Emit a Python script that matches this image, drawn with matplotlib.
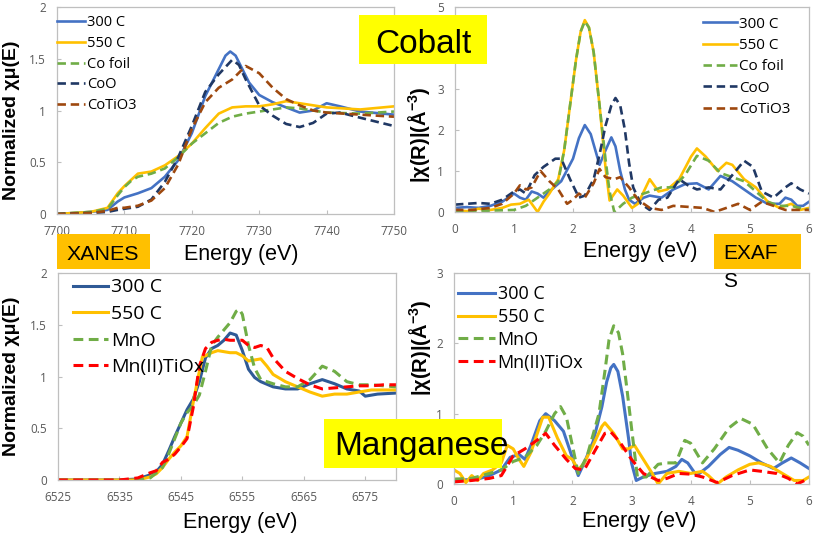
import matplotlib
matplotlib.use('Agg')
import matplotlib.pyplot as plt
from matplotlib.patches import Rectangle

W, H = 817, 536
plt.rcParams['font.family'] = ['Liberation Sans', 'DejaVu Sans']
plt.rcParams['mathtext.fontset'] = 'custom'
plt.rcParams['mathtext.rm'] = 'Liberation Sans:bold'
plt.rcParams['mathtext.bf'] = 'Liberation Sans:bold'
plt.rcParams['mathtext.it'] = 'Liberation Sans:bold'

# ---------------- Cobalt XANES ----------------
co_x300 = [7700, 7705, 7707.5, 7709, 7710, 7712, 7714, 7716, 7718, 7720, 7722, 7724, 7725, 7725.7, 7726.5, 7727.5, 7728.5, 7730, 7732, 7734, 7736, 7738, 7740, 7742, 7745, 7750]
co_y300 = [0.0, 0.02, 0.04, 0.12, 0.16, 0.20, 0.25, 0.36, 0.52, 0.78, 1.14, 1.40, 1.53, 1.57, 1.53, 1.40, 1.27, 1.15, 1.08, 1.03, 0.98, 1.00, 1.07, 1.04, 0.99, 0.96]
co_x550 = [7700, 7705, 7707.5, 7709, 7710, 7711, 7712, 7714, 7716, 7718, 7720, 7722, 7724, 7726, 7728, 7730, 7732, 7734, 7736, 7738, 7740, 7745, 7750]
co_y550 = [0.0, 0.02, 0.06, 0.20, 0.27, 0.33, 0.39, 0.41, 0.47, 0.56, 0.68, 0.83, 0.97, 1.03, 1.04, 1.04, 1.06, 1.09, 1.07, 1.05, 1.03, 1.01, 1.04]
co_xfoil = [7700, 7705, 7707.5, 7709, 7710, 7711, 7712, 7714, 7716, 7718, 7720, 7722, 7724, 7726, 7728, 7730, 7732, 7734, 7736, 7738, 7740, 7745, 7750]
co_yfoil = [0.0, 0.02, 0.05, 0.18, 0.26, 0.32, 0.36, 0.39, 0.44, 0.55, 0.68, 0.78, 0.88, 0.94, 0.97, 0.99, 1.01, 1.03, 1.02, 1.00, 0.98, 0.97, 0.99]
co_xcoo = [7700, 7705, 7707.5, 7709, 7710, 7712, 7714, 7716, 7718, 7720, 7722, 7724, 7726, 7727, 7728, 7730, 7732, 7734, 7736, 7738, 7740, 7742, 7745, 7750]
co_ycoo = [0.0, 0.01, 0.02, 0.04, 0.05, 0.07, 0.14, 0.31, 0.55, 0.85, 1.18, 1.35, 1.49, 1.44, 1.30, 1.05, 0.95, 0.87, 0.84, 0.88, 0.97, 0.98, 0.93, 0.85]
co_xcti = [7700, 7705, 7707.5, 7709, 7710, 7712, 7714, 7716, 7718, 7720, 7722, 7724, 7726, 7728, 7730, 7732, 7734, 7736, 7738, 7740, 7745, 7750]
co_ycti = [0.0, 0.01, 0.03, 0.06, 0.06, 0.08, 0.13, 0.25, 0.48, 0.82, 1.08, 1.22, 1.30, 1.43, 1.36, 1.22, 1.11, 1.05, 1.00, 0.98, 0.96, 0.94]

# ---------------- Cobalt EXAFS ----------------
ce_x300 = [0, 0.2, 0.4, 0.6, 0.8, 1.0, 1.1, 1.2, 1.3, 1.4, 1.5, 1.6, 1.8, 2.0, 2.1, 2.2, 2.3, 2.38, 2.45, 2.55, 2.65, 2.72, 2.8, 2.88, 2.95, 3.05, 3.2, 3.3, 3.5, 3.7, 3.9, 4.1, 4.3, 4.5, 4.7, 4.9, 5.1, 5.3, 5.5, 5.6, 5.7, 5.8, 5.9, 6.0]
ce_y300 = [0.10, 0.12, 0.10, 0.15, 0.25, 0.45, 0.35, 0.30, 0.50, 0.45, 0.35, 0.50, 0.75, 1.30, 1.80, 2.12, 1.90, 1.50, 1.15, 1.50, 1.82, 1.60, 1.00, 0.55, 0.30, 0.20, 0.35, 0.40, 0.35, 0.55, 0.68, 0.70, 0.55, 0.88, 0.75, 0.55, 0.35, 0.20, 0.20, 0.35, 0.30, 0.15, 0.15, 0.25]
ce_x550 = [0, 0.2, 0.4, 0.6, 0.8, 0.95, 1.1, 1.25, 1.4, 1.5, 1.6, 1.75, 1.85, 1.95, 2.05, 2.13, 2.2, 2.27, 2.35, 2.45, 2.55, 2.62, 2.75, 2.85, 3.0, 3.1, 3.3, 3.45, 3.6, 3.8, 4.0, 4.1, 4.25, 4.45, 4.6, 4.7, 4.9, 5.1, 5.3, 5.5, 5.7, 5.85, 6.0]
ce_y550 = [0.05, 0.02, 0.08, 0.05, 0.10, 0.18, 0.20, 0.30, 0.00, 0.25, 0.45, 0.80, 1.50, 2.60, 3.70, 4.40, 4.68, 4.50, 3.90, 2.60, 1.10, 0.28, 0.55, 0.40, 0.10, 0.20, 0.80, 0.50, 0.55, 0.80, 1.35, 1.55, 1.35, 1.00, 1.20, 1.15, 0.80, 0.60, 0.25, 0.10, 0.20, 0.05, 0.10]
ce_xfoil = [0, 0.5, 1.0, 1.2, 1.4, 1.6, 1.75, 1.85, 1.95, 2.05, 2.13, 2.2, 2.27, 2.35, 2.45, 2.55, 2.62, 2.7, 2.85, 3.0, 3.2, 3.5, 3.7, 3.9, 4.1, 4.3, 4.5, 4.7, 4.9, 5.1, 5.3, 5.5, 5.7, 5.9, 6.0]
ce_yfoil = [0.0, 0.03, 0.05, 0.15, 0.35, 0.55, 0.75, 1.50, 2.60, 3.70, 4.40, 4.65, 4.50, 3.90, 2.60, 1.30, 0.50, 0.00, 0.20, 0.35, 0.45, 0.60, 0.60, 0.90, 1.37, 1.25, 0.95, 0.85, 0.75, 0.50, 0.25, 0.15, 0.15, 0.08, 0.05]
ce_xcoo = [0, 0.4, 0.6, 0.8, 1.0, 1.1, 1.2, 1.35, 1.5, 1.7, 1.8, 1.95, 2.1, 2.2, 2.35, 2.45, 2.55, 2.65, 2.72, 2.8, 2.88, 2.95, 3.02, 3.15, 3.3, 3.45, 3.6, 3.8, 3.95, 4.1, 4.3, 4.5, 4.7, 4.9, 5.05, 5.2, 5.4, 5.6, 5.7, 5.85, 6.0]
ce_ycoo = [0.18, 0.22, 0.20, 0.30, 0.50, 0.55, 0.45, 0.90, 1.10, 1.30, 1.30, 0.80, 0.35, 0.40, 0.80, 1.40, 2.10, 2.60, 2.78, 2.60, 2.00, 1.20, 0.60, 0.20, 0.05, 0.30, 0.35, 0.80, 0.65, 0.55, 0.60, 0.55, 0.90, 1.25, 1.10, 0.50, 0.35, 0.60, 0.70, 0.55, 0.45]
ce_xcti = [0, 0.3, 0.6, 0.8, 1.0, 1.1, 1.2, 1.3, 1.45, 1.6, 1.75, 1.9, 2.0, 2.1, 2.2, 2.35, 2.45, 2.55, 2.7, 2.8, 2.95, 3.1, 3.3, 3.5, 3.7, 4.0, 4.2, 4.4, 4.6, 4.8, 5.0, 5.2, 5.4, 5.6, 5.8, 6.0]
ce_ycti = [0.05, 0.05, 0.10, 0.20, 0.45, 0.65, 0.55, 0.60, 1.00, 0.75, 0.55, 0.20, 0.30, 0.45, 0.35, 0.70, 1.05, 0.85, 0.80, 0.85, 0.60, 0.30, 0.10, 0.05, 0.15, 0.12, 0.10, 0.00, 0.10, 0.20, 0.05, 0.25, 0.15, 0.05, 0.05, 0.05]

# ---------------- Manganese XANES ----------------
mn_x300 = [6525, 6535, 6538, 6540, 6541, 6542, 6543, 6544, 6545, 6546, 6547, 6548, 6549, 6550, 6551, 6552, 6553, 6554, 6555, 6556, 6557, 6558, 6560, 6562, 6564, 6566, 6568, 6570, 6572, 6573, 6574, 6575, 6577, 6580]
mn_y300 = [0.0, 0.0, 0.01, 0.05, 0.08, 0.15, 0.28, 0.42, 0.55, 0.68, 0.78, 0.95, 1.18, 1.27, 1.30, 1.35, 1.42, 1.40, 1.25, 1.07, 0.99, 0.95, 0.90, 0.88, 0.88, 0.93, 0.97, 0.93, 0.88, 0.87, 0.86, 0.81, 0.83, 0.84]
mn_x550 = [6525, 6535, 6538, 6540, 6541, 6542, 6543, 6544, 6545, 6546, 6547, 6548, 6548.5, 6549, 6550, 6551, 6552, 6553, 6554, 6555, 6556, 6557, 6558, 6559, 6560, 6562, 6564, 6566, 6568, 6570, 6572, 6574, 6576, 6580]
mn_y550 = [0.0, 0.0, 0.0, 0.03, 0.06, 0.12, 0.20, 0.27, 0.33, 0.42, 0.75, 1.05, 1.19, 1.20, 1.23, 1.25, 1.24, 1.23, 1.23, 1.20, 1.15, 1.16, 1.17, 1.10, 1.02, 0.95, 0.90, 0.85, 0.81, 0.83, 0.83, 0.85, 0.87, 0.87]
mn_xmno = [6525, 6538, 6540, 6542, 6543, 6544, 6545, 6546, 6547, 6548, 6549, 6550, 6551, 6552, 6553, 6554, 6554.5, 6555, 6556, 6557, 6558, 6560, 6562, 6564, 6566, 6568, 6570, 6572, 6574, 6576, 6578, 6580]
mn_ymno = [0.0, 0.0, 0.02, 0.12, 0.25, 0.40, 0.55, 0.65, 0.72, 0.82, 1.05, 1.30, 1.38, 1.45, 1.52, 1.63, 1.65, 1.60, 1.30, 1.08, 0.97, 0.93, 0.90, 0.90, 0.97, 1.10, 1.05, 0.95, 0.92, 0.92, 0.91, 0.90]
mn_xti = [6525, 6535, 6538, 6540, 6541, 6542, 6543, 6544, 6545, 6546, 6547, 6548, 6549, 6550, 6551, 6552, 6553, 6554, 6555, 6556, 6557, 6558, 6559, 6560, 6562, 6564, 6566, 6568, 6570, 6572, 6574, 6576, 6578, 6580]
mn_yti = [0.0, 0.0, 0.02, 0.07, 0.09, 0.17, 0.20, 0.25, 0.32, 0.40, 0.70, 1.10, 1.27, 1.33, 1.35, 1.36, 1.35, 1.35, 1.35, 1.30, 1.28, 1.30, 1.28, 1.18, 1.05, 0.98, 0.92, 0.88, 0.89, 0.90, 0.91, 0.91, 0.92, 0.92]

# ---------------- Manganese EXAFS ----------------
me_x300 = [0, 0.2, 0.4, 0.6, 0.8, 0.95, 1.1, 1.2, 1.3, 1.45, 1.55, 1.7, 1.85, 1.95, 2.1, 2.2, 2.35, 2.5, 2.58, 2.65, 2.7, 2.77, 2.85, 2.95, 3.0, 3.08, 3.2, 3.4, 3.6, 3.75, 3.85, 3.95, 4.1, 4.3, 4.5, 4.65, 4.8, 5.0, 5.2, 5.4, 5.55, 5.7, 5.85, 6.0]
me_y300 = [0.05, 0.06, 0.07, 0.12, 0.20, 0.38, 0.42, 0.35, 0.55, 0.90, 1.00, 0.90, 0.75, 0.50, 0.12, 0.30, 0.60, 1.10, 1.45, 1.65, 1.70, 1.60, 1.25, 0.65, 0.30, 0.05, 0.10, 0.15, 0.18, 0.25, 0.35, 0.30, 0.12, 0.25, 0.42, 0.52, 0.48, 0.40, 0.30, 0.22, 0.30, 0.37, 0.30, 0.22]
me_x550 = [0, 0.1, 0.2, 0.3, 0.4, 0.5, 0.65, 0.8, 0.9, 1.0, 1.1, 1.18, 1.3, 1.4, 1.5, 1.6, 1.75, 1.9, 2.0, 2.1, 2.2, 2.35, 2.5, 2.55, 2.7, 2.85, 2.95, 3.05, 3.2, 3.35, 3.45, 3.6, 3.8, 4.0, 4.2, 4.3, 4.45, 4.6, 4.8, 5.0, 5.15, 5.35, 5.55, 5.75, 5.9, 6.0]
me_y550 = [0.20, 0.15, 0.02, 0.12, 0.05, 0.15, 0.20, 0.30, 0.55, 0.50, 0.35, 0.25, 0.45, 0.70, 0.95, 0.95, 0.65, 0.40, 0.35, 0.20, 0.30, 0.55, 0.82, 0.87, 0.72, 0.50, 0.50, 0.55, 0.35, 0.15, 0.00, 0.15, 0.18, 0.15, 0.18, 0.12, 0.00, 0.10, 0.20, 0.28, 0.30, 0.25, 0.15, 0.05, 0.05, 0.10]
me_xmno = [0, 0.3, 0.6, 0.8, 1.0, 1.2, 1.4, 1.55, 1.7, 1.8, 1.9, 2.0, 2.1, 2.25, 2.45, 2.55, 2.62, 2.7, 2.78, 2.85, 2.93, 3.0, 3.1, 3.25, 3.45, 3.6, 3.75, 3.9, 4.0, 4.2, 4.4, 4.65, 4.85, 5.05, 5.3, 5.5, 5.65, 5.8, 5.9, 6.0]
me_ymno = [0.07, 0.08, 0.15, 0.20, 0.32, 0.38, 0.55, 0.75, 1.00, 1.10, 0.95, 0.55, 0.15, 0.40, 1.00, 1.60, 2.05, 2.25, 2.15, 1.85, 1.30, 0.80, 0.10, 0.10, 0.28, 0.30, 0.30, 0.62, 0.58, 0.30, 0.50, 0.80, 0.93, 0.85, 0.50, 0.30, 0.55, 0.73, 0.68, 0.55]
me_xti = [0, 0.3, 0.6, 0.8, 1.0, 1.2, 1.4, 1.55, 1.7, 1.9, 2.05, 2.2, 2.4, 2.55, 2.65, 2.8, 3.0, 3.2, 3.45, 3.6, 3.8, 4.0, 4.2, 4.45, 4.7, 5.0, 5.2, 5.45, 5.65, 5.8, 6.0]
me_yti = [0.03, 0.05, 0.08, 0.12, 0.40, 0.50, 0.62, 0.72, 0.55, 0.35, 0.22, 0.20, 0.50, 0.72, 0.74, 0.60, 0.35, 0.15, 0.05, 0.08, 0.15, 0.14, 0.10, 0.02, 0.12, 0.20, 0.18, 0.15, 0.08, 0.00, 0.08]

co_labels = ['300 C', '550 C', 'Co foil', 'CoO', 'CoTiO3']
mn_labels = ['300 C', '550 C', 'MnO', 'Mn(II)TiOx']
xanes_co_ticks = [7700, 7710, 7720, 7730, 7740, 7750]
xanes_mn_ticks = [6525, 6535, 6545, 6555, 6565, 6575]

BLUE = '#4472C4'
DBLUE = '#2F5A96'
YEL = '#FFC000'
GRN = '#70AD47'
NAVY = '#203864'
BROWN = '#9E480E'
RED = '#FF0000'
DASH = (0, (3.2, 1.8))

fig = plt.figure(figsize=(W / 100, H / 100), dpi=100)


def axes_px(l, t, r, b):
    return fig.add_axes([l / W, 1 - b / H, (r - l) / W, (b - t) / H])


def style(ax, xlim, ylim, xticks, yticks, ylabels):
    ax.set_xlim(*xlim)
    ax.set_ylim(*ylim)
    ax.set_xticks(xticks)
    ax.set_yticks(yticks)
    ax.set_yticklabels(ylabels)
    for s in ax.spines.values():
        s.set_color('#BFBFBF')
        s.set_linewidth(0.9)
    ax.tick_params(direction='in', length=3, width=0.8, color='#BFBFBF',
                   labelsize=8.5, labelcolor='#595959', pad=8)
    for lab in ax.get_xticklabels() + ax.get_yticklabels():
        lab.set_fontfamily('Open Sans')


def legend_px(ax, x, ytop, fs, hl, ls):
    ax.legend(loc='upper left', bbox_to_anchor=(x / W, 1 - ytop / H),
              bbox_transform=fig.transFigure, frameon=False,
              handlelength=hl, handletextpad=0.15, labelspacing=ls,
              borderpad=0, borderaxespad=0,
              prop={'family': 'Open Sans', 'size': fs})


# Top-left: Co XANES
ax1 = axes_px(57, 7, 394, 214)
lw = 1.9
ax1.plot(co_x300, co_y300, color=BLUE, lw=lw, label=co_labels[0])
ax1.plot(co_x550, co_y550, color=YEL, lw=lw, label=co_labels[1])
ax1.plot(co_xfoil, co_yfoil, color=GRN, lw=lw, ls=DASH, label=co_labels[2])
ax1.plot(co_xcoo, co_ycoo, color=NAVY, lw=lw, ls=DASH, label=co_labels[3])
ax1.plot(co_xcti, co_ycti, color=BROWN, lw=lw, ls=DASH, label=co_labels[4])
style(ax1, (7700, 7750), (0, 2), xanes_co_ticks, [0, 0.5, 1, 1.5, 2], ['0', '0.5', '1', '1.5', '2'])
legend_px(ax1, 57, 15, 10.5, 1.9, 0.4)

# Top-right: Co EXAFS
ax2 = axes_px(455, 7, 809, 212)
ax2.plot(ce_x300, ce_y300, color=BLUE, lw=lw, label=co_labels[0])
ax2.plot(ce_x550, ce_y550, color=YEL, lw=lw, label=co_labels[1])
ax2.plot(ce_xfoil, ce_yfoil, color=GRN, lw=lw, ls=DASH, label=co_labels[2])
ax2.plot(ce_xcoo, ce_ycoo, color=NAVY, lw=lw, ls=DASH, label=co_labels[3])
ax2.plot(ce_xcti, ce_ycti, color=BROWN, lw=lw, ls=DASH, label=co_labels[4])
style(ax2, (0, 6), (0, 5), [0, 1, 2, 3, 4, 5, 6], [0, 1, 2, 3, 4, 5], ['0', '1', '2', '3', '4', '5'])
legend_px(ax2, 703, 16.5, 11, 2.2, 0.42)

# Bottom-left: Mn XANES
ax3 = axes_px(58, 273, 396, 480)
lw2 = 2.2
ax3.plot(mn_x300, mn_y300, color=DBLUE, lw=lw2, label=mn_labels[0])
ax3.plot(mn_x550, mn_y550, color=YEL, lw=lw2, label=mn_labels[1])
ax3.plot(mn_xmno, mn_ymno, color=GRN, lw=lw2, ls=DASH, label=mn_labels[2])
ax3.plot(mn_xti, mn_yti, color=RED, lw=lw2, ls=DASH, label=mn_labels[3])
style(ax3, (6525, 6580), (0, 2), xanes_mn_ticks, [0, 0.5, 1, 1.5, 2], ['0', '0.5', '1', '1.5', '2'])
legend_px(ax3, 73, 278.5, 14, 1.8, 0.44)

# Bottom-right: Mn EXAFS
ax4 = axes_px(454, 273, 809, 484)
ax4.plot(me_x300, me_y300, color=BLUE, lw=lw2, label=mn_labels[0])
ax4.plot(me_x550, me_y550, color=YEL, lw=lw2, label=mn_labels[1])
ax4.plot(me_xmno, me_ymno, color=GRN, lw=lw2, ls=DASH, label=mn_labels[2])
ax4.plot(me_xti, me_yti, color=RED, lw=lw2, ls=DASH, label=mn_labels[3])
style(ax4, (0, 6), (0, 3), [0, 1, 2, 3, 4, 5, 6], [0, 1, 2, 3], ['0', '1', '2', '3'])
legend_px(ax4, 458, 285, 13, 2.05, 0.27)

# axis labels
ylab_xanes = 'Normalized χμ(E)'
ylab_exafs = r'|χ(R)|(Å$^{-3}$)'
xlab = 'Energy (eV)'
fig.text(12 / W, 1 - 120 / H, ylab_xanes, rotation=90, ha='center', va='center', fontsize=14, fontweight='bold')
fig.text(12 / W, 1 - 376 / H, ylab_xanes, rotation=90, ha='center', va='center', fontsize=14, fontweight='bold')
fig.text(419 / W, 1 - 135 / H, ylab_exafs, rotation=90, ha='center', va='center', fontsize=14.5, fontweight='bold')
fig.text(420 / W, 1 - 348 / H, ylab_exafs, rotation=90, ha='center', va='center', fontsize=14.5, fontweight='bold')
for (xc, yb) in [(241, 260), (640, 257), (240, 528), (639, 527)]:
    fig.text(xc / W, 1 - yb / H, xlab, ha='center', va='baseline', fontsize=15.5)


def box(x0, y0, x1, y1, color):
    fig.add_artist(Rectangle((x0 / W, 1 - y1 / H), (x1 - x0) / W, (y1 - y0) / H,
                             transform=fig.transFigure, facecolor=color,
                             edgecolor='none', zorder=5))


box(359, 15, 487, 64, '#FFFF00')
fig.text(423 / W, 1 - 53 / H, 'Cobalt', ha='center', va='baseline', fontsize=24, zorder=6)
box(324, 419, 502, 468, '#FFFF00')
fig.text(421 / W, 1 - 455 / H, 'Manganese', ha='center', va='baseline', fontsize=24, zorder=6)
box(57, 234, 150, 269, '#FFC000')
fig.text(103 / W, 1 - 260 / H, 'XANES', ha='center', va='baseline', fontsize=15.4, zorder=6)
box(714, 234, 801, 269, '#FFC000')
fig.text(723 / W, 1 - 259 / H, 'EXAF', ha='left', va='baseline', fontsize=15, zorder=6)
fig.text(723 / W, 1 - 287 / H, 'S', ha='left', va='baseline', fontsize=15, zorder=6)

fig.savefig('out.png', dpi=100)
